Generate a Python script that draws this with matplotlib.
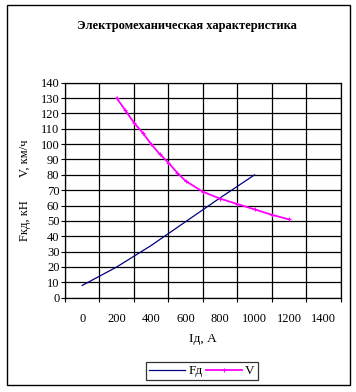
import numpy as np
import matplotlib
matplotlib.use("Agg")
import matplotlib.pyplot as plt
from matplotlib.patches import Rectangle

plt.rcParams['font.family'] = ['Liberation Serif', 'DejaVu Serif']

# ---------------- data ----------------
title = "Электромеханическая характеристика"
x_label = "Iд, А"
y_label_v = "V, км/ч"
y_label_f = "Fкд, кН"

I_f = [0, 200, 400, 600, 800, 1000]
F_d = [8, 20, 34, 49.5, 65, 80]

I_v = [200, 250, 300, 350, 400, 450, 500, 550, 600, 700, 800, 900, 1000, 1100, 1200]
V = [130, 122, 114, 107.5, 100, 93.5, 88, 81.5, 76, 69, 64.5, 61, 57.5, 54, 51]

x_labels = [0, 200, 400, 600, 800, 1000, 1200, 1400]
y_ticks = list(range(0, 141, 10))

# ---------------- figure ----------------
fig = plt.figure(figsize=(3.56, 3.92), dpi=100)
fig.patches.append(Rectangle((7/356, 1 - 385/392), 343/356, 380/392,
                             transform=fig.transFigure, fill=False,
                             edgecolor='black', linewidth=1))

ax = fig.add_axes([65/356, 1 - 297.7/392, 275.7/356, 215/392])

ax.plot(I_f, F_d, color='#000080', linewidth=0.9, label='Fд')
ax.plot(I_v, V, color='#FF00FF', linewidth=1.3, marker='+', markersize=2.5,
        markeredgewidth=0.8, label='V')

ax.set_xlim(-100, 1500)
ax.set_ylim(0, 140)

# gridlines between labels (category-like axis)
ax.set_xticks(np.arange(-100, 1501, 200))
ax.set_xticklabels([])
ax.set_xticks(x_labels, minor=True)
ax.set_xticklabels([str(v) for v in x_labels], minor=True, fontsize=9)
ax.tick_params(axis='x', which='minor', length=0, pad=11)
ax.tick_params(axis='x', which='major', length=3, direction='out', width=0.8)

ax.set_yticks(y_ticks)
ax.set_yticklabels([str(v) for v in y_ticks], fontsize=9)
ax.tick_params(axis='y', length=3, direction='out', width=0.8, pad=1)

ax.grid(True, which='major', color='black', linewidth=0.9)
for s in ax.spines.values():
    s.set_linewidth(0.9)

fig.text(187/356, 1 - 26/392, title, ha='center', va='center',
         fontsize=9, fontweight='bold')
fig.text(203/356, 1 - 339/392, x_label, ha='center', va='center', fontsize=9.5)
fig.text(25/356, 1 - 158/392, y_label_v, ha='center', va='center',
         rotation=90, fontsize=9)
fig.text(25/356, 1 - 221/392, y_label_f, ha='center', va='center',
         rotation=90, fontsize=9)

leg = fig.legend(loc='center', bbox_to_anchor=(202/356, 1 - 371/392), ncol=2,
                 fontsize=9.5, frameon=True, fancybox=False, edgecolor='black',
                 handlelength=2.7, handletextpad=0.25, columnspacing=0.25,
                 borderpad=0.25, borderaxespad=0)
leg.get_frame().set_linewidth(0.9)

fig.savefig("out.png", dpi=100)
